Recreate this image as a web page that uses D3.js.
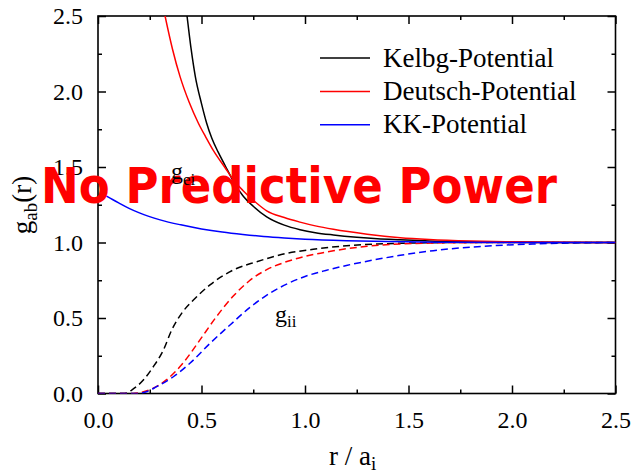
<!DOCTYPE html>
<html lang="en">
<head>
<meta charset="UTF-8" />
<title>g_ab(r)</title>
<script src="https://d3js.org/d3.v7.min.js"></script>
<style>
  body { margin: 0; background: #fff; }
  svg text { font-family: 'Liberation Serif', 'DejaVu Serif', serif; fill: #000; }
</style>
</head>
<body>
<div id="chart"></div>
<script>
// data: [r / a_i, g(r)]
const kelbgEi = [[0.415,2.66],[0.43,2.5],[0.45,2.28],[0.47,2.10],[0.50,1.92],[0.525,1.79],[0.55,1.69],[0.58,1.60],[0.614,1.51],[0.65,1.415],[0.66,1.39],[0.70,1.31],[0.75,1.24],[0.815,1.17],[0.90,1.115],[0.976,1.085],[1.05,1.065],[1.137,1.05],[1.25,1.035],[1.35,1.025],[1.46,1.018],[1.6,1.01],[1.8,1.005],[2.0,1.002],[2.25,1.0],[2.5,1.0]];
const deutschEi = [[0.30,2.66],[0.324,2.5],[0.36,2.28],[0.396,2.10],[0.44,1.93],[0.485,1.79],[0.52,1.70],[0.557,1.61],[0.614,1.495],[0.66,1.405],[0.70,1.345],[0.75,1.28],[0.815,1.21],[0.90,1.165],[0.976,1.135],[1.05,1.11],[1.137,1.087],[1.3,1.055],[1.46,1.032],[1.6,1.02],[1.8,1.01],[2.0,1.005],[2.25,1.001],[2.5,1.0]];
const kkEi = [[0.01,1.33],[0.05,1.30],[0.1,1.262],[0.15,1.226],[0.2,1.196],[0.3,1.15],[0.4,1.117],[0.5,1.09],[0.6,1.069],[0.7,1.053],[0.8,1.04],[0.9,1.03],[1.0,1.022],[1.2,1.012],[1.4,1.006],[1.7,1.002],[2.0,1.0],[2.5,1.0]];

const kelbgIi = [[0,0],[0.13,0],[0.163,0.023],[0.219,0.089],[0.267,0.177],[0.316,0.288],[0.356,0.42],[0.404,0.531],[0.461,0.619],[0.541,0.719],[0.654,0.818],[0.767,0.873],[0.912,0.928],[1.04,0.955],[1.2,0.978],[1.35,0.99],[1.5,0.996],[1.8,1.0],[2.5,1.0]];
const deutschIi = [[0,0],[0.17,0],[0.2,0.005],[0.25,0.025],[0.33,0.09],[0.41,0.2],[0.49,0.35],[0.57,0.505],[0.65,0.64],[0.73,0.745],[0.815,0.82],[0.9,0.868],[1.0,0.908],[1.137,0.945],[1.3,0.975],[1.46,0.99],[1.7,0.998],[2.0,1.0],[2.5,1.0]];
const kkIi = [[0,0],[0.19,0],[0.23,0.01],[0.283,0.045],[0.364,0.111],[0.444,0.2],[0.541,0.332],[0.638,0.454],[0.734,0.57],[0.831,0.665],[0.92,0.73],[1.0,0.775],[1.1,0.815],[1.2,0.848],[1.3,0.876],[1.46,0.915],[1.62,0.946],[1.86,0.975],[2.1,0.99],[2.3,0.997],[2.5,1.0]];

const majorTicks = [0, 0.5, 1.0, 1.5, 2.0, 2.5];
const minorTicks = [0.25, 0.75, 1.25, 1.75, 2.25];
const legendNames = ["Kelbg-Potential", "Deutsch-Potential", "KK-Potential"];
const colors = ["#000000", "#ff0000", "#0000ff"];

const W = 632, H = 471;
const margin = { top: 16, right: 16.5, bottom: 77.5, left: 98 };
const width = W - margin.left - margin.right;
const height = H - margin.top - margin.bottom;

const svg = d3.select("#chart").append("svg")
  .attr("width", W).attr("height", H);

const g = svg.append("g")
  .attr("transform", `translate(${margin.left},${margin.top})`);

const x = d3.scaleLinear().domain([0, 2.5]).range([0, width]);
const y = d3.scaleLinear().domain([0, 2.5]).range([height, 0]);

// watermark sits underneath the plot
svg.append("text")
  .attr("x", 41).attr("y", 203)
  .attr("textLength", 516).attr("lengthAdjust", "spacingAndGlyphs")
  .style("font-family", "'DejaVu Sans', sans-serif")
  .style("font-weight", "bold").style("font-size", "49px")
  .style("fill", "#ff0000")
  .text("No Predictive Power");

svg.append("defs").append("clipPath").attr("id", "clip")
  .append("rect").attr("width", width).attr("height", height);

const fmt = d3.format(".1f");

// bottom axis with labels
const xAxis = g.append("g").attr("transform", `translate(0,${height})`)
  .call(d3.axisBottom(x).tickValues(majorTicks).tickFormat(fmt).tickSize(-8).tickPadding(17));
g.append("g").attr("transform", `translate(0,${height})`)
  .call(d3.axisBottom(x).tickValues(minorTicks).tickFormat("").tickSize(-4));
// top axis
g.append("g").call(d3.axisTop(x).tickValues(majorTicks).tickFormat("").tickSize(-8));
g.append("g").call(d3.axisTop(x).tickValues(minorTicks).tickFormat("").tickSize(-4));
// left axis with labels
const yAxis = g.append("g")
  .call(d3.axisLeft(y).tickValues(majorTicks).tickFormat(fmt).tickSize(-8).tickPadding(15));
g.append("g").call(d3.axisLeft(y).tickValues(minorTicks).tickFormat("").tickSize(-4));
// right axis
g.append("g").attr("transform", `translate(${width},0)`)
  .call(d3.axisRight(y).tickValues(majorTicks).tickFormat("").tickSize(-8));
g.append("g").attr("transform", `translate(${width},0)`)
  .call(d3.axisRight(y).tickValues(minorTicks).tickFormat("").tickSize(-4));

g.selectAll(".domain").remove();
g.selectAll(".tick line").attr("stroke", "#000").attr("stroke-width", 1.5);
g.selectAll(".tick text")
  .style("font-family", "'Liberation Serif', serif")
  .style("font-size", "24px").attr("fill", "#000");
xAxis.selectAll(".tick text").attr("dy", "0.71em");

g.append("rect")
  .attr("width", width).attr("height", height)
  .attr("fill", "none").attr("stroke", "#000").attr("stroke-width", 1.6);

// curves
const line = d3.line()
  .x(d => x(d[0]))
  .y(d => y(d[1]))
  .curve(d3.curveMonotoneX);

const plot = g.append("g").attr("clip-path", "url(#clip)");

const solid = [kelbgEi, deutschEi, kkEi];
const dashed = [kelbgIi, deutschIi, kkIi];

dashed.forEach((d, i) => {
  plot.append("path").datum(d)
    .attr("fill", "none").attr("stroke", colors[i])
    .attr("stroke-width", 1.5).attr("stroke-dasharray", "7,4")
    .attr("d", line);
});
solid.forEach((d, i) => {
  plot.append("path").datum(d)
    .attr("fill", "none").attr("stroke", colors[i])
    .attr("stroke-width", 1.5)
    .attr("d", line);
});

// curve labels
const gei = svg.append("text").attr("x", 171).attr("y", 179).style("font-size", "24px");
gei.append("tspan").text("g");
gei.append("tspan").attr("dy", 6).style("font-size", "17px").text("ei");

const gii = svg.append("text").attr("x", 275).attr("y", 322).style("font-size", "24px");
gii.append("tspan").text("g");
gii.append("tspan").attr("dy", 5).style("font-size", "17px").text("ii");

// legend
const legend = svg.append("g").attr("transform", "translate(320,58)");
legendNames.forEach((name, i) => {
  const row = legend.append("g").attr("transform", `translate(0,${i * 33.4})`);
  row.append("line").attr("x1", 0).attr("x2", 50)
    .attr("stroke", colors[i]).attr("stroke-width", 1.5);
  row.append("text").attr("x", 63).attr("y", 8.5)
    .style("font-size", "27px").text(name);
});

// axis titles
const xt = svg.append("text").attr("x", 329).attr("y", 465).style("font-size", "27px");
xt.append("tspan").text("r / a");
xt.append("tspan").attr("dy", 5).style("font-size", "19px").text("i");

const yt = svg.append("text")
  .attr("transform", "translate(31,205) rotate(-90)")
  .attr("text-anchor", "middle").style("font-size", "27px");
yt.append("tspan").text("g");
yt.append("tspan").attr("dy", 6).style("font-size", "19px").text("ab");
yt.append("tspan").attr("dy", -6).text("(r)");
</script>
</body>
</html>
